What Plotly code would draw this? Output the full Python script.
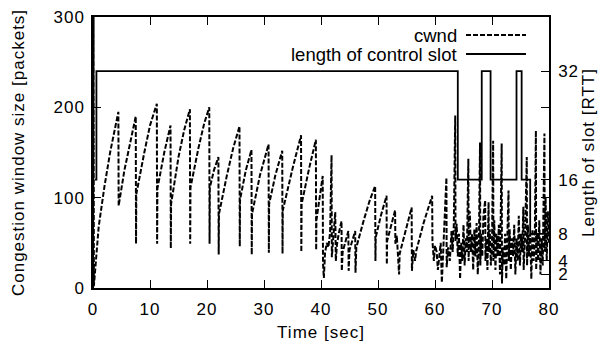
import plotly.graph_objects as go

# ---- data ----
cwnd_time = [
    0.0, 0.1, 0.15, 1.0, 2.0, 3.0, 4.45, 4.5, 5.5, 6.5, 7.5, 7.55, 7.6, 9.0, 10.0, 11.2,
    11.25, 11.3, 12.5, 13.6, 13.65, 13.7, 15.0, 16.0, 17.0, 17.05, 17.1, 18.5, 19.5, 20.4,
    20.45, 20.5, 21.2, 22.0, 22.05, 22.1, 23.5, 24.6, 25.7, 25.75, 25.8, 26.8, 27.8, 27.85,
    27.9, 29.3, 30.8, 30.85, 30.9, 32.0, 33.2, 33.25, 33.3, 35.0, 36.5, 36.55, 36.6, 37.9,
    39.1, 39.15, 39.2, 40.3, 40.35, 40.5, 40.7, 41.0, 41.3, 41.6, 41.85, 41.9, 42.1, 42.5,
    42.6, 42.8, 43.1, 43.6, 43.65, 43.8, 44.8, 44.85, 45.0, 46.0, 46.05, 46.2, 47.5, 48.5,
    49.5, 49.55, 49.6, 50.5, 51.5, 51.55, 51.6, 53.0, 53.05, 53.3, 53.5, 53.7, 53.8, 55.0,
    55.9, 55.95, 56.2, 56.5, 56.7, 58.0, 59.5, 59.55, 59.8, 60.0, 60.3, 60.5, 60.7, 61.0,
    61.2, 61.6, 62.0, 62.05, 62.3, 62.6, 62.9, 63.1, 63.3, 63.55, 63.6, 63.8, 64.0, 64.2,
    64.4, 64.6, 64.8, 65.0, 65.2, 65.4, 65.6, 65.85, 65.9, 66.1, 66.3, 66.5, 66.7, 66.9,
    67.1, 67.3, 67.5, 67.7, 67.9, 67.95, 68.1, 68.3, 68.5, 68.8, 68.85, 69.0, 69.2, 69.4,
    69.45, 69.6, 69.8, 70.0, 70.2, 70.25, 70.4, 70.6, 70.8, 71.0, 71.2, 71.4, 71.7, 71.75,
    71.9, 72.1, 72.3, 72.5, 72.7, 72.9, 72.95, 73.1, 73.3, 73.5, 73.7, 73.9, 74.1, 74.3,
    74.5, 74.7, 74.9, 75.1, 75.3, 75.5, 75.55, 75.8, 76.1, 76.15, 76.3, 76.5, 76.7, 76.9,
    77.1, 77.3, 77.5, 77.7, 77.75, 77.9, 78.1, 78.3, 78.5, 78.7, 78.9, 79.2, 79.25, 79.4,
    79.6, 79.8, 80.0,
]
cwnd_packets = [
    0, 300, 2, 68, 112, 150, 195, 91, 130, 162, 190, 49, 104, 150, 180, 204,
    49, 110, 150, 180, 44, 93, 145, 175, 198, 49, 111, 155, 182, 200,
    49, 111, 130, 145, 37, 82, 125, 155, 179, 46, 98, 130, 153, 37,
    82, 125, 159, 39, 93, 125, 152, 38, 86, 132, 169, 40, 93, 132,
    164, 42, 75, 124, 27, 11, 38, 50, 45, 62, 147, 34, 55, 84,
    30, 48, 60, 74, 19, 40, 63, 19, 42, 63, 17, 45, 75, 96,
    113, 30, 56, 80, 102, 26, 52, 86, 49, 58, 30, 15, 38, 68,
    89, 19, 42, 30, 41, 72, 102, 52, 30, 47, 40, 20, 35, 50,
    6, 60, 122, 23, 45, 30, 63, 40, 70, 191, 52, 71, 35, 60,
    10, 50, 30, 70, 25, 55, 40, 143, 30, 85, 40, 60, 20, 65,
    35, 72, 15, 50, 161, 25, 60, 35, 80, 97, 30, 55, 20, 95,
    40, 65, 25, 50, 163, 30, 75, 20, 60, 35, 70, 15, 160, 5,
    45, 25, 60, 10, 50, 108, 30, 65, 20, 55, 35, 70, 15, 55,
    30, 80, 25, 60, 40, 90, 20, 55, 145, 25, 70, 35, 60, 10,
    65, 30, 50, 174, 20, 60, 30, 75, 15, 55, 25, 171, 40, 100,
    30, 85, 50,
]
slot_time = [0.3, 0.6, 64.0, 68.2, 69.75, 74.3, 75.2, 76.7, 80.0]
slot_rtt = [16, 32, 16, 32, 16, 32, 16, 8, 8]

x_ticks = [0, 10, 20, 30, 40, 50, 60, 70, 80]
y_ticks = [0, 100, 200, 300]
y2_ticks = [2, 4, 8, 16, 32]
legend_labels = ["cwnd", "length of control slot"]

FONT = "Liberation Sans, Arial, sans-serif"
DASH = "5px,2px"

fig = go.Figure()
fig.add_trace(go.Scatter(
    x=cwnd_time, y=cwnd_packets, mode="lines", name=legend_labels[0],
    line=dict(color="black", width=2, dash=DASH), yaxis="y",
))
fig.add_trace(go.Scatter(
    x=slot_time, y=slot_rtt, mode="lines", name=legend_labels[1],
    line=dict(color="black", width=1.8, shape="hv"), yaxis="y2",
))

# plot area in pixels: x 93..549, y 17..288
L, R, T, B = 93, 549, 17, 288
W, H = R - L, B - T

def px(x):
    return (x - L) / W

def py(y):
    return (B - y) / H

annotations = []
shapes = []
rows = [(35, DASH), (54, "solid")]
for (yy, dash), label in zip(rows, legend_labels):
    annotations.append(dict(
        x=px(459), y=py(yy), xref="paper", yref="paper", text=label,
        showarrow=False, xanchor="right", yanchor="middle",
        font=dict(family=FONT, size=18.5, color="black"),
    ))
    shapes.append(dict(
        type="line", xref="paper", yref="paper",
        x0=px(466), x1=px(526), y0=py(yy), y1=py(yy),
        line=dict(color="black", width=1.8, dash=dash),
    ))

axis_common = dict(
    showline=True, linecolor="black", linewidth=1.5,
    ticks="inside", ticklen=8, tickwidth=1, tickcolor="black",
    showgrid=False, zeroline=False, automargin=False,
    tickfont=dict(family=FONT, size=17, color="black"),
)

fig.update_layout(
    width=614, height=343,
    margin=dict(l=L, r=614 - R, t=T, b=343 - B, autoexpand=False),
    paper_bgcolor="white", plot_bgcolor="white",
    showlegend=False,
    font=dict(family=FONT, color="black"),
    xaxis=dict(
        range=[0, 80], tickvals=x_ticks, mirror="ticks", ticklabelstandoff=5,
        title=dict(text="Time [sec]", font=dict(family=FONT, size=17), standoff=8),
        **axis_common,
    ),
    yaxis=dict(
        range=[0, 300], tickvals=y_ticks, mirror="ticks", ticklabelstandoff=3,
        title=dict(text="Congestion window size [packets]", font=dict(family=FONT, size=17), standoff=28),
        **axis_common,
    ),
    yaxis2=dict(
        range=[0, 40], tickvals=y2_ticks, overlaying="y", side="right", ticklabelstandoff=4,
        title=dict(text="Length of slot [RTT]", font=dict(family=FONT, size=17), standoff=6),
        **axis_common,
    ),
    annotations=annotations,
    shapes=shapes,
)

post = (
    "document.querySelectorAll('.xtick text, .ytick text, .y2tick text, "
    ".g-xtitle text, .g-ytitle text, .g-y2title text').forEach(function(t){"
    "t.style.letterSpacing='1px';});"
)
fig.write_html("out.html", post_script=post)
